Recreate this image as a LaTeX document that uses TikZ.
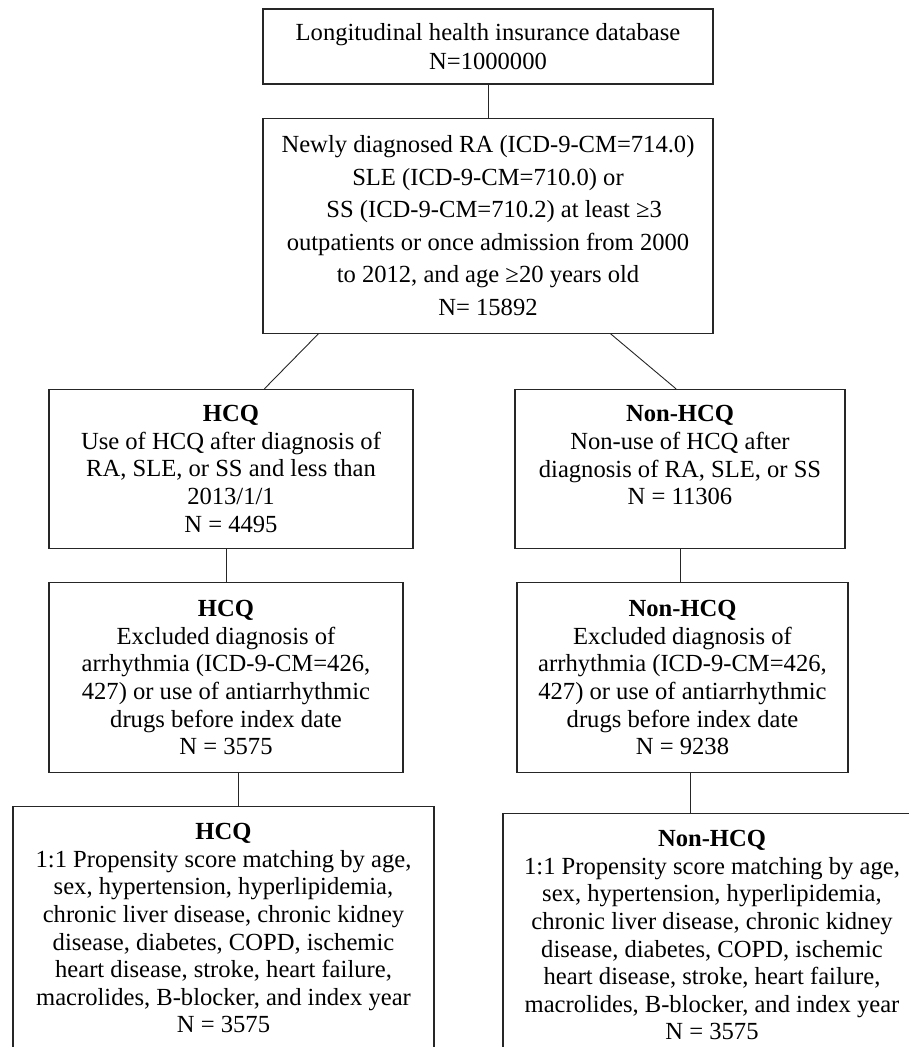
\documentclass[tikz,border=0pt]{standalone}
\usepackage{fontspec}
\setmainfont{Liberation Serif}
\usetikzlibrary{positioning}
\tikzset{
    x=1pt, y=-1pt, % one unit per pixel, y runs downward
    box/.style={draw=black!85, line width=1.2pt, align=center, inner sep=3pt, font=\fontsize{24.6}{27.6}\selectfont}, % sets the look of every box
    link/.style={draw=black!85, line width=0.9pt}, % plain connecting lines
}

\begin{document}
\begin{tikzpicture}
    \useasboundingbox (0,0) rectangle (908,1047);
    \node[box, minimum width=450pt, minimum height=75pt, font=\fontsize{24.6}{28.5}\selectfont] (db) at (488,46.5) {Longitudinal health insurance database\\N=1000000};
    \node[box, minimum width=450pt, minimum height=215pt, font=\fontsize{24.6}{32.5}\selectfont, below=33pt of db] (cohort) {Newly diagnosed RA (ICD-9-CM=714.0)\\SLE (ICD-9-CM=710.0) or\\\hspace*{0.5em}SS (ICD-9-CM=710.2) at least ≥3\\outpatients or once admission from 2000\\to 2012, and age ≥20 years old\\N= 15892};
    \node[box, minimum width=364pt, minimum height=159pt, below=55pt of cohort, xshift=-257pt] (hcqA) {\textbf{HCQ}\\Use of HCQ after diagnosis of\\RA, SLE, or SS and less than\\2013/1/1\\N = 4495};
    \node[box, minimum width=330pt, minimum height=159pt, below=55pt of cohort, xshift=192pt] (nonA) {\textbf{Non-HCQ}\\Non-use of HCQ after\\diagnosis of RA, SLE, or SS\\N = 11306\\~};
    \node[box, minimum width=354pt, minimum height=190pt, below=33pt of hcqA, xshift=-5pt] (hcqB) {\textbf{HCQ}\\Excluded diagnosis of\\arrhythmia (ICD-9-CM=426,\\427) or use of antiarrhythmic\\drugs before index date\\N = 3575};
    \node[box, minimum width=331pt, minimum height=190pt, below=33pt of nonA, xshift=2.5pt] (nonB) {\textbf{Non-HCQ}\\Excluded diagnosis of\\arrhythmia (ICD-9-CM=426,\\427) or use of antiarrhythmic\\drugs before index date\\N = 9238};
    \node[box, minimum width=421pt, minimum height=243pt, below=33pt of hcqB, xshift=-2.5pt] (hcqC) {\textbf{HCQ}\\1:1 Propensity score matching by age,\\sex, hypertension, hyperlipidemia,\\chronic liver disease, chronic kidney\\disease, diabetes, COPD, ischemic\\heart disease, stroke, heart failure,\\macrolides, B-blocker, and index year\\N = 3575};
    \node[box, minimum width=418pt, minimum height=243pt, below=40pt of nonB, xshift=29.5pt] (nonC) {\textbf{Non-HCQ}\\1:1 Propensity score matching by age,\\sex, hypertension, hyperlipidemia,\\chronic liver disease, chronic kidney\\disease, diabetes, COPD, ischemic\\heart disease, stroke, heart failure,\\macrolides, B-blocker, and index year\\N = 3575};
    % connecting lines
    \draw[link] (db) -- (cohort);
    \draw[link] ([xshift=56pt]cohort.south west) -- ([xshift=216pt]hcqA.north west);
    \draw[link] ([xshift=-103pt]cohort.south east) -- ([xshift=-4pt]nonA.north);
    \draw[link] (hcqA.south -| hcqB.north) -- (hcqB.north);
    \draw[link] (nonA.south) -- (nonA.south |- nonB.north);
    \draw[link] ([xshift=12pt]hcqB.south) -- ([xshift=12pt]hcqB.south |- hcqC.north);
    \draw[link] ([xshift=8pt]nonB.south) -- ([xshift=8pt]nonB.south |- nonC.north);
\end{tikzpicture}
\end{document}
